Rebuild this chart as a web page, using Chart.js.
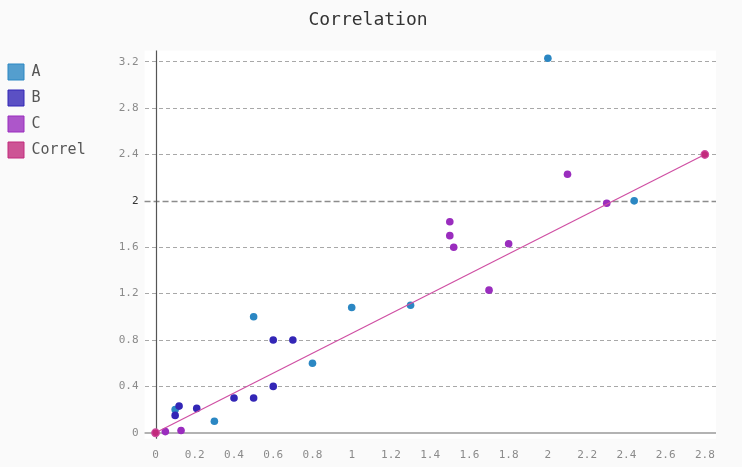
<!DOCTYPE html>
<html>
<head>
<meta charset="utf-8">
<script src="https://cdn.jsdelivr.net/npm/chart.js@4.4.1/dist/chart.umd.min.js"></script>
<style>
  html, body { margin: 0; padding: 0; background: #fafafa; }
  #wrap { width: 742px; height: 467px; }
</style>
</head>
<body>
<div id="wrap"><canvas id="chart" width="742" height="467"></canvas></div>
<script>
// ---------- Data ----------
var seriesNames = ['A', 'B', 'C', 'Correl'];
var aX = [0.1, 0.3, 0.5, 0.8, 1.0, 1.3, 2.0, 2.44];
var aY = [0.2, 0.1, 1.0, 0.6, 1.08, 1.1, 3.23, 2.0];
var bX = [0.1, 0.12, 0.21, 0.4, 0.5, 0.6, 0.6, 0.7];
var bY = [0.15, 0.23, 0.21, 0.3, 0.3, 0.4, 0.8, 0.8];
var cX = [0.05, 0.13, 1.5, 1.5, 1.52, 1.7, 1.8, 2.1, 2.3];
var cY = [0.01, 0.02, 1.82, 1.7, 1.6, 1.23, 1.63, 2.23, 1.98];
var correlX = [0, 2.8];
var correlY = [0, 2.4];
var xTicks = [0, 0.2, 0.4, 0.6, 0.8, 1, 1.2, 1.4, 1.6, 1.8, 2, 2.2, 2.4, 2.6, 2.8];
var yTicks = [0, 0.4, 0.8, 1.2, 1.6, 2, 2.4, 2.8, 3.2];

// ---------- Styles ----------
var pointColors = ['#2b87c3', '#3326b6', '#9a2dbe', '#c22a7c'];
var legendFill = ['rgba(43,135,195,0.8)', 'rgba(51,38,182,0.8)', 'rgba(154,45,190,0.8)', 'rgba(194,42,124,0.8)'];
var mono = "'DejaVu Sans Mono', monospace";

function toPoints(xs, ys) {
    var pts = [];
    for (var i = 0; i < xs.length; i++) pts.push({ x: xs[i], y: ys[i] });
    return pts;
}

// Plot background and axis lines, pygal style.
var frame = {
    id: 'frame',
    beforeDraw: function(chart) {
        var ctx = chart.ctx, a = chart.chartArea;
        ctx.save();
        ctx.fillStyle = '#fafafa';
        ctx.fillRect(0, 0, chart.width, chart.height);
        ctx.fillStyle = '#ffffff';
        ctx.fillRect(a.left, a.top, a.right - a.left, a.bottom - a.top);
        ctx.restore();
    },
    beforeDatasetsDraw: function(chart) {
        var ctx = chart.ctx, a = chart.chartArea;
        var xs = chart.scales.x, ys = chart.scales.y;
        var x0 = Math.round(xs.getPixelForValue(0)) + 0.5;
        var y0 = Math.round(ys.getPixelForValue(0));
        var y2 = Math.round(ys.getPixelForValue(2)) + 0.5;
        ctx.save();
        // major guide at 2
        ctx.strokeStyle = '#8c8c8c';
        ctx.lineWidth = 1.5;
        ctx.setLineDash([6, 3]);
        ctx.beginPath();
        ctx.moveTo(a.left, y2);
        ctx.lineTo(a.right, y2);
        ctx.stroke();
        ctx.setLineDash([]);
        // x axis
        ctx.strokeStyle = '#9a9a9a';
        ctx.lineWidth = 1.5;
        ctx.beginPath();
        ctx.moveTo(a.left, y0);
        ctx.lineTo(a.right, y0);
        ctx.stroke();
        // y axis
        ctx.strokeStyle = '#555555';
        ctx.lineWidth = 1.2;
        ctx.beginPath();
        ctx.moveTo(x0, a.top);
        ctx.lineTo(x0, a.bottom);
        ctx.stroke();
        ctx.restore();
    }
};

var ctx = document.getElementById('chart').getContext('2d');
var chart = new Chart(ctx, {
    type: 'scatter',
    data: {
        datasets: [
            { label: seriesNames[0], data: toPoints(aX, aY), backgroundColor: pointColors[0], order: 4 },
            { label: seriesNames[1], data: toPoints(bX, bY), backgroundColor: pointColors[1], order: 3 },
            { label: seriesNames[2], data: toPoints(cX, cY), backgroundColor: pointColors[2], order: 2 },
            {
                label: seriesNames[3], data: toPoints(correlX, correlY), backgroundColor: pointColors[3],
                showLine: true, borderColor: '#cf4fa3', borderWidth: 1.2, order: 1
            }
        ]
    },
    options: {
        responsive: false,
        animation: false,
        layout: { padding: { left: -2, right: 4, top: 0, bottom: -5 } },
        elements: { point: { radius: 3.8, borderWidth: 0, hoverRadius: 3.8 } },
        plugins: {
            tooltip: { enabled: false },
            title: {
                display: true,
                text: 'Correlation',
                color: '#333',
                font: { family: mono, size: 18, weight: 'normal' },
                padding: { top: 10, bottom: 19 }
            },
            legend: {
                position: 'left',
                align: 'start',
                title: {
                    display: true,
                    text: '',
                    font: { size: 1, lineHeight: 1 },
                    padding: { top: 53, bottom: 0 }
                },
                labels: {
                    boxWidth: 16,
                    boxHeight: 16,
                    padding: 10,
                    color: '#555',
                    font: { family: mono, size: 15 },
                    generateLabels: function(chart) {
                        return chart.data.datasets.map(function(ds, i) {
                            return {
                                text: ds.label,
                                fillStyle: legendFill[i],
                                strokeStyle: pointColors[i],
                                lineWidth: 1,
                                fontColor: '#555',
                                datasetIndex: i
                            };
                        });
                    }
                }
            }
        },
        scales: {
            x: {
                type: 'linear',
                min: -0.056,
                max: 2.857,
                afterBuildTicks: function(scale) {
                    scale.ticks = xTicks.map(function(v) { return { value: v }; });
                },
                grid: { display: false, drawTicks: false },
                border: { display: false },
                ticks: {
                    padding: 10,
                    color: '#8a8a8a',
                    font: { family: mono, size: 11 },
                    callback: function(v) { return String(v); }
                }
            },
            y: {
                type: 'linear',
                min: -0.052,
                max: 3.296,
                afterBuildTicks: function(scale) {
                    scale.ticks = yTicks.map(function(v) { return { value: v }; });
                },
                afterFit: function(scale) { scale.width += 17; },
                grid: {
                    drawTicks: false,
                    color: function(c) {
                        var v = c.tick ? c.tick.value : null;
                        return (v === 0 || v === 2) ? 'rgba(0,0,0,0)' : '#a8a8a8';
                    },
                    lineWidth: 1
                },
                border: { display: false, dash: [4, 3] },
                ticks: {
                    padding: 6,
                    color: function(c) { return c.tick && c.tick.value === 2 ? '#333' : '#8a8a8a'; },
                    font: { family: mono, size: 11 },
                    callback: function(v) { return String(v); }
                }
            },
            // empty right-hand gutter, keeps the plot off the right edge
            gutter: {
                type: 'linear',
                position: 'right',
                display: true,
                grid: { display: false, drawTicks: false },
                border: { display: false },
                ticks: { display: false },
                afterFit: function(scale) { scale.width = 22; }
            }
        }
    },
    plugins: [frame]
});
</script>
</body>
</html>
